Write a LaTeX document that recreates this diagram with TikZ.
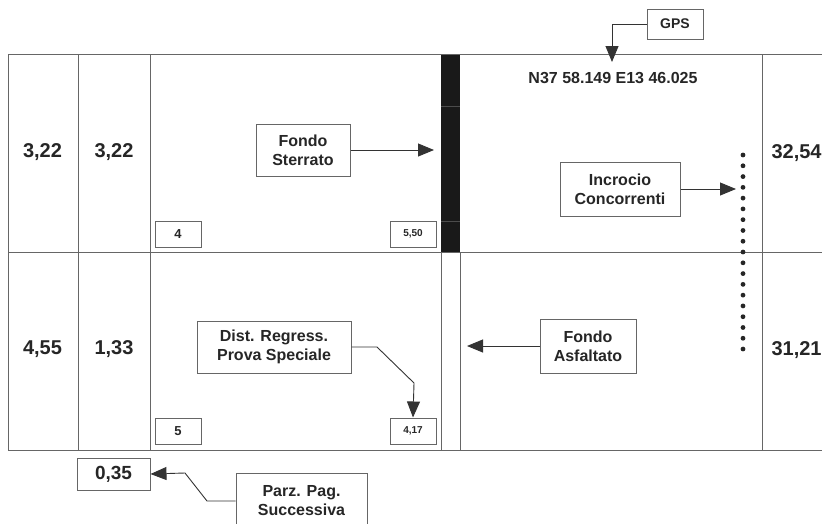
\documentclass[tikz,border=0pt]{standalone}
\usepackage{fontspec}
\setmainfont{Liberation Sans}
\usetikzlibrary{arrows.meta}

\tikzset{
  rule/.style={draw=black!60, line width=1pt},
  note/.style={draw=black!60, line width=1pt, fill=white, align=center, inner sep=0pt,
    text=black!85, font=\fontsize{16}{19}\selectfont\bfseries},
  tag/.style={draw=black!60, line width=1pt, fill=white, inner sep=0pt,
    minimum width=46pt, minimum height=26pt, text=black!85},
  cellnum/.style={text=black!85, font=\fontsize{20}{24}\selectfont\bfseries},
  pointer/.style={draw=black!80, line width=0.9pt, -{Triangle[length=16pt,width=13pt]}},
}

\begin{document}
\begin{tikzpicture}[x=1pt, y=-1pt]
\useasboundingbox (0,0) rectangle (822,523);
\clip (0,0) rectangle (822,523);

% table
\fill[black!90] (441,54) rectangle (460,252.5);
\draw[black!70, line width=0.6pt] (441,106) -- (460,106);
\draw[black!70, line width=0.6pt] (441,221) -- (460,221);
\draw[rule] (8,54) -- (830,54);
\draw[rule] (8,252.5) -- (830,252.5);
\draw[rule] (8,450) -- (830,450);
\draw[rule] (8,54) -- (8,450);
\draw[rule] (78,54) -- (78,450);
\draw[rule] (150,54) -- (150,450);
\draw[rule] (441,252.5) -- (441,450);
\draw[rule] (460,252.5) -- (460,450);
\draw[rule] (762,54) -- (762,450);

% dotted mark
\foreach \i in {0,...,18}
  \fill[black!85] (743,155+\i*10.78) circle (2.4pt);

% distances
\node[cellnum] (p1) at (42.5,152) {3,22};
\node[cellnum] (t1) at (114,152) {3,22};
\node[cellnum] (p2) at (42.5,349) {4,55};
\node[cellnum] (t2) at (114,349) {1,33};
\node[cellnum, anchor=west] (k1) at (768,153) {32,54};
\node[cellnum, anchor=west] (k2) at (768,350) {31,21};

% small tags
\node[tag, font=\fontsize{13}{15}\selectfont\bfseries] (n4) at (178,234) {4};
\node[tag, font=\fontsize{10}{12}\selectfont\bfseries] (d4) at (413,234) {5,50};
\node[tag, font=\fontsize{13}{15}\selectfont\bfseries] (n5) at (178,431) {5};
\node[tag, font=\fontsize{10}{12}\selectfont\bfseries] (d5) at (413,431) {4,17};
\node[tag, minimum width=73pt, minimum height=32pt, font=\fontsize{19}{22}\selectfont\bfseries] (carry) at (113.5,474) {0,35};

% GPS
\node[text=black!85, font=\fontsize{16}{19}\selectfont\bfseries] (coord) at (613,78) {N37 58.149 E13 46.025};
\node[note, minimum width=56pt, minimum height=30pt, font=\fontsize{14}{16}\selectfont\bfseries] (gps) at (675,24) {GPS};
\coordinate (gpsend) at (612,62);
\draw[pointer] (gps.west) -- (612,24) -- (gpsend);

% notes
\node[note, minimum width=94pt, minimum height=52pt] (sterrato) at (303,150) {Fondo\\Sterrato};
\coordinate (bar) at (434,150);
\draw[pointer] (sterrato) -- (bar);

\node[note, minimum width=120pt, minimum height=54pt] (incrocio) at (620,189) {Incrocio\\Concorrenti};
\coordinate (dots) at (736,189);
\draw[pointer] (incrocio) -- (dots);

\node[note, minimum width=96pt, minimum height=54pt] (asfalto) at (588,346) {Fondo\\Asfaltato};
\coordinate (lane) at (467,346);
\draw[pointer] (asfalto) -- (lane);

\node[note, minimum width=154pt, minimum height=52pt] (regress) at (274,347) {Dist. Regress.\\Prova Speciale};
\draw[pointer] (regress.east) -- (377,347) -- (414,383) -- (d5.north);

\node[note, minimum width=131pt, minimum height=56pt] (parz) at (301.5,501) {Parz. Pag.\\Successiva};
\draw[pointer] (parz.west) -- (207,501) -- (185,473) -- (carry.east);
\end{tikzpicture}
\end{document}
